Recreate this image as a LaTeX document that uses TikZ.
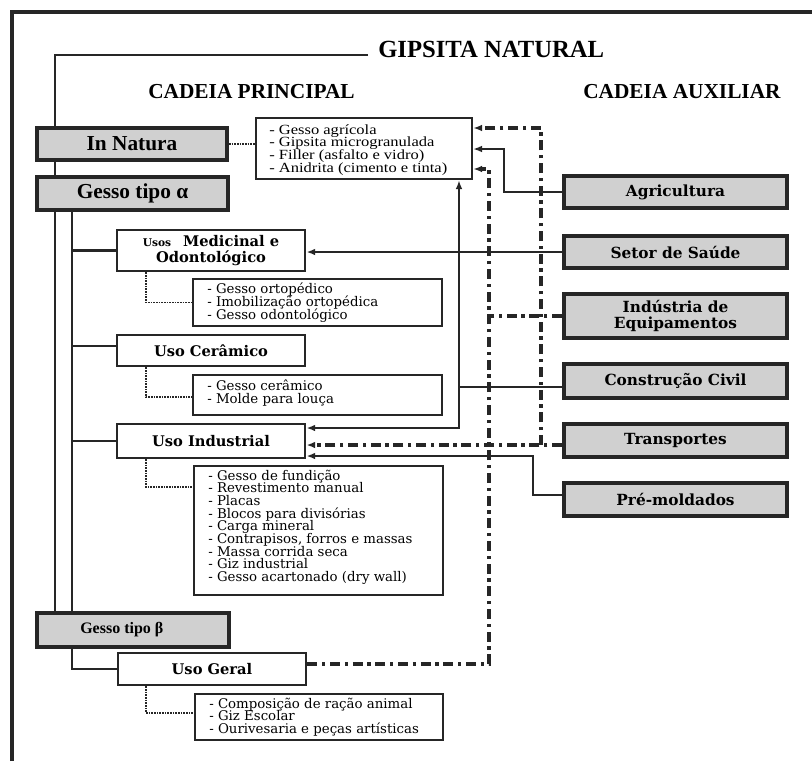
\documentclass[tikz,border=0pt]{standalone}
\usepackage{fontspec}
\setmainfont{Liberation Serif}
\newfontfamily\dvs{DejaVu Serif}
\newfontfamily\tnrx[FakeStretch=1.18]{Liberation Serif}
\usetikzlibrary{arrows.meta,backgrounds}
\definecolor{bord}{HTML}{262626}
\definecolor{gfill}{HTML}{D0D0D0}
\begin{document}
\begin{tikzpicture}[x=0.75pt,y=-0.75pt,
  gbox/.style={draw=bord,fill=gfill,line width=3pt,inner sep=0pt,rectangle},
  wbox/.style={draw=bord,fill=white,line width=2.2pt,inner sep=0pt,rectangle},
  lbox/.style={draw=bord,fill=white,line width=1.1pt,inner sep=0pt,rectangle},
  tbox/.style={draw=bord,fill=white,line width=2pt,inner sep=0pt,rectangle},
  lfont/.style={font={\bfseries\fontsize{16}{18}\selectfont}},
  rbox/.style={gbox,minimum width=167.25pt,font={\dvs\bfseries\fontsize{11.5}{11.5}\selectfont\lineskiplimit=-20pt\lineskip=0pt},align=center},
  ubox/.style={wbox,minimum width=141pt,font={\dvs\bfseries\fontsize{11}{11.5}\selectfont\lineskiplimit=-20pt\lineskip=0pt},align=center},
  ltxt/.style={anchor=west,align=left,inner sep=0pt,font={\dvs\fontsize{10}{9.5}\selectfont\lineskiplimit=-20pt\lineskip=0pt}},
  ttxt/.style={anchor=west,align=left,inner sep=0pt,font={\tnrx\fontsize{10.5}{9.6}\selectfont\lineskiplimit=-20pt\lineskip=0pt}},
  trunk/.style={draw=bord,line width=1.6pt},
  dotc/.style={draw=bord,line width=1.1pt,dash pattern=on 1.2pt off 0.8pt},
  arr/.style={-{Latex[length=6.5pt,width=5pt]}},
  thin/.style={draw=bord,line width=1.1pt},
  mid/.style={draw=bord,line width=1.5pt},
  thick/.style={draw=bord,line width=2pt},
  dd/.style={draw=bord,line width=2.5pt,dash pattern=on 7.5pt off 3.5pt on 2.5pt off 3.5pt}
]
\useasboundingbox (0,0) rectangle (812,761);
\begin{scope}[on background layer]
  \fill[white] (0,0) rectangle (812,761);
\end{scope}

% frame
\draw[bord,line width=2.5pt] (12,761) -- (12,12) -- (812,12);

% titles
\node[anchor=base west,inner sep=0pt,font={\bfseries\fontsize{18.5}{20}\selectfont}] (title) at (378,57) {GIPSITA NATURAL};
\node[anchor=base west,inner sep=0pt,font={\bfseries\fontsize{16}{18}\selectfont}] (cp) at (148,98) {CADEIA PRINCIPAL};
\node[anchor=base west,inner sep=0pt,font={\bfseries\fontsize{16}{18}\selectfont}] (ca) at (583,98) {CADEIA AUXILIAR};

% left grey boxes
\node[gbox,lfont,minimum width=142.5pt,minimum height=24pt] (innat) at (132,144) {In Natura};
\node[gbox,lfont,minimum width=143.25pt,minimum height=24.75pt] (alpha) at (132.5,193.5) {Gesso tipo α};
\node[gbox,minimum width=144pt,minimum height=25.5pt] (beta) at (133,630) {};
\node[anchor=west,inner sep=0pt,font={\bfseries\fontsize{12}{14}\selectfont}] (betatxt) at (80,630) {Gesso tipo β};

% use boxes
\node[ubox,minimum height=30.75pt] (med) at (211,250.5) {{\fontsize{8}{9}\selectfont Usos}\hspace{9pt}Medicinal e\\Odontológico};
\node[ubox,minimum height=23.25pt] (cer) at (211,350.5) {Uso Cerâmico};
\node[ubox,minimum height=25.5pt] (ind) at (211,441) {Uso Industrial};
\node[ubox,minimum height=24pt] (geral) at (212,669) {Uso Geral};

% list boxes
\node[tbox,minimum width=162pt,minimum height=45.75pt] (top) at (364,148.5) {};
\node[ttxt] (toptxt) at (269,150) {- Gesso agrícola\\- Gipsita microgranulada\\- Filler (asfalto e vidro)\\- Anidrita (cimento e tinta)};
\node[lbox,minimum width=186.75pt,minimum height=35.25pt] (lmed) at (317.5,302.5) {};
\node[ltxt] (lmedtxt) at (207,302.5) {- Gesso ortopédico\\- Imobilização ortopédica\\- Gesso odontológico};
\node[lbox,minimum width=186.75pt,minimum height=30pt] (lcer) at (317.5,395) {};
\node[ltxt] (lcertxt) at (207,393) {- Gesso cerâmico\\- Molde para louça};
\node[lbox,minimum width=186.75pt,minimum height=96.75pt] (lind) at (318.5,530.5) {};
\node[ltxt] (lindtxt) at (208,527) {- Gesso de fundição\\- Revestimento manual\\- Placas\\- Blocos para divisórias\\- Carga mineral\\- Contrapisos, forros e massas\\- Massa corrida seca\\- Giz industrial\\- Gesso acartonado (dry wall)};
\node[lbox,minimum width=186pt,minimum height=34.5pt] (lger) at (319,717) {};
\node[ltxt] (lgertxt) at (209,717) {- Composição de ração animal\\- Giz Escolar\\- Ourivesaria e peças artísticas};

% right grey boxes
\node[rbox,minimum height=24pt] (agri) at (675.5,192) {Agricultura};
\node[rbox,minimum height=24pt] (saude) at (675.5,252) {Setor de Saúde};
\node[rbox,minimum height=33pt] (equip) at (675.5,316) {Indústria de\\Equipamentos};
\node[rbox,minimum height=25.5pt] (const) at (675.5,381) {Construção Civil};
\node[rbox,minimum height=24.75pt] (trans) at (675.5,440.5) {Transportes};
\node[rbox,minimum height=24.75pt] (pre) at (675.5,499.5) {Pré-moldados};

% trunk lines behind boxes
\begin{scope}[on background layer]
  \draw[trunk] (title.base west) ++(-10,-2) coordinate (t0) -| (beta.north -| 55,0);
  \draw[trunk] (alpha.south -| 72,0) |- (geral.west);
  \draw[trunk] (alpha.south -| 72,0) |- (med.west);
  \draw[trunk] (alpha.south -| 72,0) |- (cer.west |- 0,346);
  \draw[trunk] (alpha.south -| 72,0) |- (ind.west);
\end{scope}

% dotted list connectors
\draw[dotc] (innat.east) -- (top.west |- innat.east);
\draw[dotc] (146,0 |- med.south) |- (lmed.west);
\draw[dotc] (146,0 |- cer.south) |- (lcer.west |- 0,397);
\draw[dotc] (146,0 |- ind.south) |- (lind.west |- 0,487);
\draw[dotc] (146,0 |- geral.south) |- (lger.west |- 0,713);

% auxiliary chain connectors
\coordinate (cj) at (459,387);
\coordinate (tj) at (541,445);
\draw[thin,arr] (agri.west) -- ++(-58,0) |- (top.east |- 0,149);
\draw[thick,arr] (saude.west) -- (med.east |- saude.west);
\draw[mid,arr] (const.west |- cj) -| (cj |- top.south);
\draw[mid,arr] (cj) |- (ind.east |- 0,428);
\draw[dd,arr] (trans.west |- tj) -- (ind.east |- tj);
\draw[dd,arr] (tj) |- (top.east |- 0,128);
\draw[thick,arr] (pre.west |- 0,495) -- ++(-29,0) |- (ind.east |- 0,456);
\draw[dd] (equip.west) -- (489,0 |- equip.west);
\draw[dd,arr] (geral.east |- 0,664) -- (489,664) |- (top.east |- 0,169);
\end{tikzpicture}
\end{document}
